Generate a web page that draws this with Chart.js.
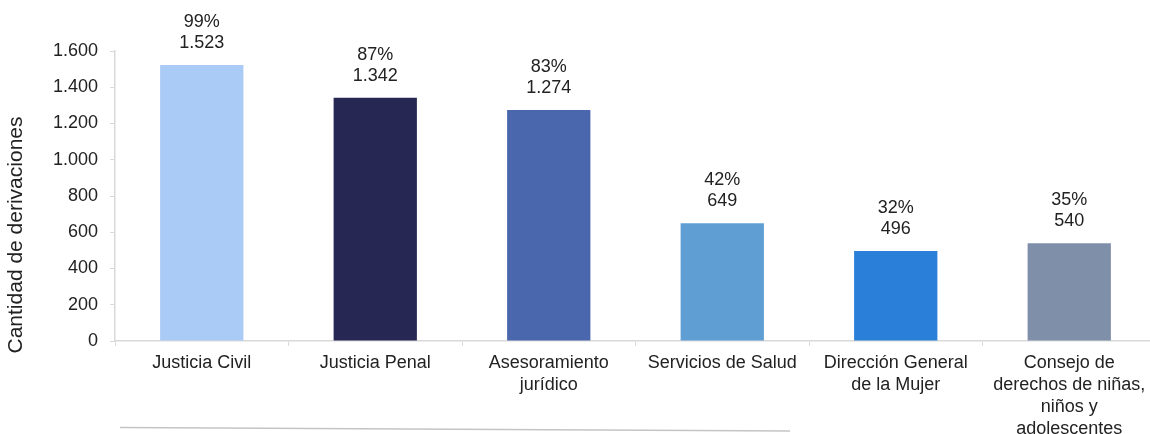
<!DOCTYPE html>
<html>
<head>
<meta charset="utf-8">
<script src="https://cdn.jsdelivr.net/npm/chart.js@4"></script>
<style>
html,body{margin:0;padding:0;background:#fff;overflow:hidden;}
#wrap{width:1157px;height:434px;position:relative;}
</style>
</head>
<body>
<div id="wrap"><canvas id="c"></canvas></div>
<script>
const categories = [
  ['Justicia Civil'],
  ['Justicia Penal'],
  ['Asesoramiento', 'jurídico'],
  ['Servicios de Salud'],
  ['Dirección General', 'de la Mujer'],
  ['Consejo de', 'derechos de niñas,', 'niños y', 'adolescentes']
];
const values = [1523, 1342, 1274, 649, 496, 540];
const percents = ['99%', '87%', '83%', '42%', '32%', '35%'];
const barColors = ['#abcbf7', '#262853', '#4a67ae', '#5f9ed3', '#2a7fd8', '#7f8faa'];
const yTicks = [0, 200, 400, 600, 800, 1000, 1200, 1400, 1600];
const yTitle = 'Cantidad de derivaciones';

const FONT = '"Liberation Sans", Arial, sans-serif';
const fmt = v => v.toLocaleString('de-DE');

const extras = {
  id: 'extras',
  afterDatasetsDraw(chart) {
    const ctx = chart.ctx;
    const meta = chart.getDatasetMeta(0);
    ctx.save();
    ctx.fillStyle = '#222';
    ctx.font = '18px ' + FONT;
    ctx.textAlign = 'center';
    ctx.textBaseline = 'middle';
    meta.data.forEach((bar, i) => {
      ctx.fillText(fmt(values[i]), bar.x, bar.y - 22);
      ctx.fillText(percents[i], bar.x, bar.y - 43);
    });
    // y title
    const ca = chart.chartArea;
    ctx.translate(16, (ca.top + ca.bottom) / 2 + 39);
    ctx.rotate(-Math.PI / 2);
    ctx.font = '21px ' + FONT;
    ctx.fillText(yTitle, 0, 0);
    ctx.restore();
    // decorative line under the chart
    ctx.save();
    ctx.strokeStyle = '#c4c4c4';
    ctx.lineWidth = 1.5;
    ctx.beginPath();
    ctx.moveTo(120, 427.5);
    ctx.lineTo(790, 431);
    ctx.stroke();
    ctx.restore();
  }
};

new Chart(document.getElementById('c'), {
  type: 'bar',
  data: {
    labels: categories,
    datasets: [{
      data: values,
      backgroundColor: barColors,
      barPercentage: 0.48,
      categoryPercentage: 1.0
    }]
  },
  options: {
    responsive: true,
    maintainAspectRatio: false,
    animation: false,
    layout: { padding: { top: 51, right: 1, left: 0, bottom: 0 } },
    plugins: { legend: { display: false }, tooltip: { enabled: false } },
    scales: {
      x: {
        grid: { offset: true, drawOnChartArea: false, drawTicks: true, tickLength: 5, color: '#d9d9d9' },
        border: { color: '#d9d9d9', width: 1.5 },
        ticks: {
          color: '#222', font: { family: FONT, size: 18, lineHeight: 1.22 },
          maxRotation: 0, minRotation: 0, autoSkip: false, padding: 6
        },
        afterFit(scale) { scale.height = 93; }
      },
      y: {
        min: 0, max: 1600,
        afterBuildTicks(scale) { scale.ticks = yTicks.map(v => ({ value: v })); },
        grid: { drawOnChartArea: false, drawTicks: true, tickLength: 5, color: '#d9d9d9' },
        border: { color: '#d9d9d9', width: 1.5 },
        ticks: {
          color: '#222', font: { family: FONT, size: 18 }, padding: 12,
          callback: v => fmt(v)
        },
        afterFit(scale) { scale.width = 115; }
      }
    }
  },
  plugins: [extras]
});
</script>
</body>
</html>
